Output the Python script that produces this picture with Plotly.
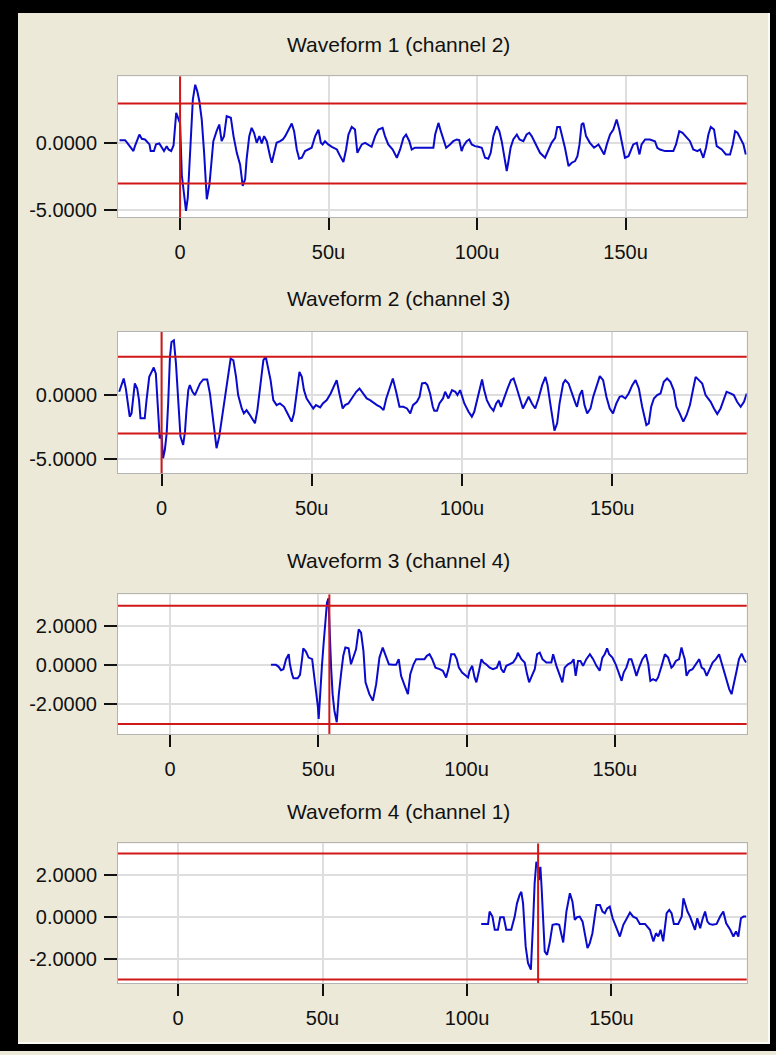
import plotly.graph_objects as go

# ---- data (time in microseconds, amplitude) ----
W1 = [(-20.4, 0.25), (-18.5, 0.25), (-17.4, -0.07), (-15.7, -0.57), (-15.2, -0.20), (-13.7, 0.67),
      (-12.9, 0.35), (-11.8, 0.30), (-10.3, -0.07), (-9.9, -0.57), (-8.8, -0.57), (-8.1, -0.07),
      (-7.0, 0.00), (-6.2, -0.32), (-5.4, -0.57), (-4.5, -0.20), (-3.9, -0.45), (-3.0, -0.57),
      (-2.2, -0.15), (-1.3, 2.29), (-0.6, 1.92), (0.0, 1.50), (0.6, -2.40), (2.0, -5.05),
      (2.6, -4.05), (3.1, -1.94), (3.6, 0.92), (4.3, 3.28), (5.1, 4.40), (5.8, 3.91),
      (6.5, 3.16), (7.3, 1.79), (8.1, -0.70), (9.0, -4.18), (9.9, -3.06), (10.3, -1.94),
      (11.2, 0.17), (12.3, 0.92), (13.2, 1.42), (14.0, 0.17), (14.8, 0.55), (15.7, 2.04),
      (17.1, 1.92), (18.0, 0.55), (19.1, -0.70), (20.2, -1.57), (21.1, -3.18), (21.9, -2.69),
      (22.4, -1.19), (23.3, 0.55), (24.1, 1.17), (24.9, 0.80), (25.8, 0.05), (26.7, 0.55),
      (27.5, 0.00), (28.3, 0.55), (29.2, 0.17), (30.3, -0.95), (30.9, -1.44), (31.4, -0.95),
      (32.5, 0.05), (33.7, 0.17), (34.6, 0.30), (35.4, 0.55), (36.5, 1.04), (37.6, 1.49),
      (38.4, 0.92), (39.3, -0.45), (40.1, -1.14), (41.0, -1.07), (42.1, -0.57), (43.2, -0.45),
      (44.3, -0.32), (45.5, 0.55), (46.6, 1.04), (47.4, 0.05), (48.0, -0.07), (48.8, 0.17),
      (49.9, -0.07), (51.1, -0.25), (52.8, -0.45), (53.9, -0.95), (55.0, -1.39), (55.9, -0.45),
      (56.7, 0.67), (57.8, 1.24), (58.9, 1.04), (59.7, -0.70), (61.2, -0.07), (62.3, 0.05),
      (63.4, -0.07), (64.5, -0.25), (65.7, 0.55), (66.8, 1.04), (68.2, 1.17), (69.0, 0.55),
      (70.1, -0.07), (71.6, -0.45), (73.0, -1.07), (74.1, -0.45), (75.2, 0.42), (76.1, 0.67),
      (77.2, 0.17), (78.0, -0.45), (79.1, -0.32), (80.8, -0.32), (85.3, -0.32), (85.9, 0.67),
      (87.0, 1.54), (87.8, 0.92), (88.7, 0.30), (89.6, -0.32), (90.9, -0.07), (92.0, 0.17),
      (93.2, 0.30), (94.0, 0.25), (94.8, -0.57), (95.4, -0.20), (96.5, 0.17), (97.4, 0.30),
      (98.2, -0.07), (99.3, -0.20), (100.4, -0.25), (101.6, -0.32), (102.7, -1.07), (103.8, -1.14),
      (104.6, -0.70), (105.5, 0.55), (106.6, 1.29), (107.5, 0.92), (108.3, 0.17), (109.1, -0.95),
      (110.0, -2.06), (110.5, -1.44), (111.3, -0.32), (112.2, 0.30), (113.4, 0.67), (114.3, 0.30),
      (115.6, 0.17), (116.7, 0.67), (117.6, 0.80), (118.4, 0.55), (119.5, 0.05), (121.2, -0.70),
      (122.9, -1.07), (124.0, -0.57), (125.1, 0.05), (126.3, 0.42), (127.0, 1.24), (127.9, 1.24),
      (128.8, 0.42), (129.6, -0.32), (130.8, -1.69), (131.9, -1.44), (133.0, -1.32), (133.8, -0.95),
      (134.5, -0.07), (135.2, 1.42), (135.8, 1.54), (136.7, 0.55), (138.0, 0.05), (139.4, -0.32),
      (140.9, -0.07), (142.0, -0.45), (142.8, -0.82), (143.7, -0.07), (144.8, 0.67), (145.9, 1.04),
      (147.0, 1.79), (147.9, 1.04), (148.7, 0.17), (149.8, -1.07), (151.0, -0.95), (151.7, -0.57),
      (152.6, -0.07), (153.8, 0.05), (154.7, -0.82), (155.4, -0.07), (156.6, 0.30), (158.2, 0.30),
      (159.9, 0.17), (160.7, -0.32), (161.6, -0.45), (163.3, -0.57), (166.1, -0.57), (167.0, -0.07),
      (168.1, 0.92), (169.2, 0.80), (170.6, 0.42), (171.7, 0.17), (172.8, -0.45), (174.2, -0.57),
      (175.1, -0.45), (176.2, -1.07), (177.1, -0.32), (177.9, 0.67), (178.7, 1.24), (179.8, 1.04),
      (180.7, -0.20), (182.4, -0.45), (183.8, -0.82), (185.2, -0.82), (186.1, -0.07), (186.9, 0.92),
      (187.7, 0.80), (188.5, 0.42), (189.7, -0.07), (190.5, -0.82)]

W2 = [(-14.1, 0.26), (-13.3, 0.91), (-12.6, 1.30), (-11.9, 0.52), (-11.1, -0.91), (-10.6, -1.68),
      (-10.0, -1.42), (-9.5, -0.13), (-8.9, 0.91), (-8.1, 0.52), (-7.5, -0.39), (-7.0, -1.81),
      (-5.6, -1.81), (-5.0, -0.39), (-4.1, 1.42), (-3.3, 1.81), (-2.6, 2.15), (-1.9, 1.68),
      (-1.1, -1.17), (-0.6, -3.37), (0.0, -3.11), (0.5, -4.92), (1.1, -4.27), (1.7, -2.98),
      (2.2, -0.65), (2.8, 2.98), (3.3, 4.14), (4.1, 4.27), (4.8, 2.46), (5.5, -0.39),
      (6.3, -3.24), (7.2, -3.88), (7.8, -2.85), (8.3, -1.17), (8.9, 0.39), (9.4, 0.78),
      (10.3, 0.26), (11.1, 0.00), (11.9, 0.39), (12.8, 0.91), (13.9, 1.22), (15.2, 1.22),
      (16.1, 0.13), (17.0, -1.55), (17.8, -3.24), (18.3, -4.14), (19.2, -3.24), (20.0, -1.94),
      (21.1, -0.39), (22.2, 1.68), (23.0, 2.85), (23.9, 2.72), (24.8, 1.42), (25.5, 0.00),
      (26.7, -1.04), (27.4, -1.42), (28.3, -1.17), (29.2, -1.48), (30.3, -1.94), (31.1, -2.20),
      (31.9, -1.17), (32.8, 0.39), (33.9, 2.72), (34.7, 2.98), (35.5, 2.20), (36.3, 1.17),
      (37.2, -0.39), (38.3, -0.78), (39.4, -0.65), (40.8, -0.91), (41.9, -1.42), (43.3, -2.07),
      (44.1, -1.42), (45.0, 0.39), (45.9, 1.81), (46.7, 1.42), (47.4, 0.39), (48.3, -0.26),
      (49.4, -0.65), (50.5, -1.04), (51.4, -0.78), (52.8, -0.96), (53.7, -0.65), (55.0, -0.39),
      (56.3, 0.13), (57.2, 0.65), (58.3, 1.17), (59.2, 0.13), (60.3, -1.04), (61.1, -0.78),
      (62.2, -0.65), (63.3, -0.26), (64.8, 0.26), (65.9, 0.52), (67.2, 0.13), (68.3, -0.26),
      (69.4, -0.39), (70.5, -0.60), (71.7, -0.78), (72.8, -0.91), (73.9, -1.17), (74.8, -0.26),
      (75.9, 0.52), (77.0, 1.30), (78.1, 0.26), (79.2, -0.91), (80.5, -0.91), (81.7, -1.04),
      (82.8, -1.42), (83.7, -0.78), (85.0, -0.52), (85.9, -0.13), (86.7, 0.91), (87.8, 0.96),
      (88.5, 0.78), (89.4, 0.13), (90.3, -0.91), (90.8, -1.22), (91.7, -1.22), (92.5, -0.65),
      (93.7, -0.26), (94.4, 0.26), (95.5, -0.26), (96.7, 0.39), (97.8, 0.26), (98.5, 0.00),
      (99.4, 0.39), (100.0, 0.00), (100.8, -0.65), (102.2, -1.30), (103.3, -1.68), (104.1, -1.30),
      (105.2, -0.13), (106.1, 0.65), (106.7, 1.22), (107.4, 0.39), (108.3, -0.39), (109.4, -0.91),
      (110.5, -1.22), (111.4, -0.65), (112.2, -0.39), (113.0, -0.91), (114.1, -0.13), (115.2, 0.52),
      (116.3, 1.17), (117.2, 1.30), (118.1, 0.65), (119.2, -0.26), (120.3, -1.04), (121.4, -0.52),
      (122.2, -0.13), (123.3, -0.65), (124.4, -1.04), (125.5, -0.26), (126.7, 0.78), (127.8, 1.42),
      (128.5, 0.78), (129.4, -0.65), (130.3, -2.20), (130.8, -2.77), (131.7, -2.20), (132.5, -0.65),
      (133.7, 0.91), (134.4, 1.17), (135.5, 0.91), (136.7, 0.00), (137.8, -0.65), (138.3, -0.91),
      (139.2, 0.00), (140.0, 0.39), (140.8, -0.78), (141.7, -1.42), (142.8, -1.04), (143.7, -0.13),
      (144.8, 0.78), (145.9, 1.48), (147.0, 1.17), (148.1, -0.13), (149.2, -1.04), (150.3, -1.42),
      (151.4, -0.65), (152.5, -0.13), (153.3, -0.08), (154.4, -0.26), (155.5, 0.13), (156.7, 0.78),
      (157.8, 1.17), (158.9, 0.52), (160.0, -0.91), (160.8, -1.68), (161.4, -2.33), (162.2, -2.20),
      (163.0, -0.91), (163.9, -0.26), (165.0, 0.00), (166.1, 0.13), (167.2, 1.04), (168.3, 1.30),
      (169.4, 1.04), (170.5, 0.39), (171.4, -0.91), (172.5, -1.42), (173.7, -2.07), (174.8, -1.55),
      (175.9, -0.78), (177.0, 0.52), (177.8, 1.42), (178.9, 1.17), (180.0, 0.91), (181.1, 0.00),
      (181.9, -0.26), (182.8, -0.52), (183.9, -1.04), (185.0, -1.48), (186.1, -1.04), (187.2, -0.39),
      (188.1, 0.26), (189.4, 0.13), (190.5, 0.00), (191.6, -0.52), (192.8, -0.91), (193.9, -0.52),
      (194.8, 0.13)]

W3 = [(34.0, 0.00), (35.7, 0.00), (36.6, -0.10), (37.4, -0.27), (38.2, -0.22), (39.1, 0.29),
      (40.0, 0.54), (40.4, 0.03), (41.1, -0.47), (41.6, -0.68), (43.0, -0.68), (43.8, -0.51),
      (44.5, 0.29), (44.9, 0.84), (45.8, 0.68), (46.7, 0.37), (47.9, 0.29), (48.6, -0.56),
      (49.2, -1.23), (49.8, -2.08), (50.1, -2.75), (50.6, -1.15), (51.2, -0.05), (51.7, 0.96),
      (52.4, 2.40), (52.9, 3.16), (53.4, 3.38), (53.7, 2.06), (54.3, -0.14), (54.8, -1.49),
      (55.4, -2.33), (56.2, -2.92), (56.9, -1.49), (57.7, -0.39), (58.4, 0.46), (59.1, 0.88),
      (60.2, 0.84), (61.0, 0.03), (61.8, 0.37), (62.7, 0.79), (63.6, 1.81), (64.4, 1.64),
      (65.2, 0.71), (65.9, -0.89), (67.2, -1.49), (68.4, -1.82), (69.5, -0.98), (70.6, 0.37),
      (71.7, 0.88), (72.6, 0.54), (73.8, 0.03), (75.1, 0.00), (76.2, 0.00), (77.1, 0.29),
      (77.9, -0.56), (79.1, -1.06), (80.2, -1.49), (81.0, -0.47), (82.1, 0.03), (83.0, 0.29),
      (84.7, 0.29), (85.8, 0.29), (86.6, 0.46), (87.5, 0.54), (88.4, 0.29), (89.5, -0.14),
      (90.9, -0.22), (92.0, -0.30), (93.1, -0.64), (94.0, -0.14), (94.8, 0.54), (95.9, 0.54),
      (96.7, 0.29), (97.4, -0.14), (98.5, -0.39), (99.7, -0.56), (100.5, -0.64), (101.0, -0.30),
      (101.9, -0.05), (102.7, -0.64), (103.3, -0.89), (104.2, -0.30), (105.0, 0.29), (105.7, 0.12),
      (106.6, 0.03), (107.8, -0.14), (108.9, -0.22), (110.2, -0.14), (111.1, 0.20), (111.7, -0.22),
      (112.5, -0.39), (113.4, -0.05), (114.5, 0.03), (115.7, 0.12), (116.8, 0.37), (117.3, 0.62),
      (118.5, 0.29), (119.6, 0.12), (120.4, -0.47), (121.1, -0.89), (121.8, -0.64), (123.0, -0.22),
      (123.8, 0.54), (124.7, 0.62), (125.6, 0.29), (126.9, 0.12), (128.6, 0.12), (129.2, 0.54),
      (130.3, -0.05), (131.4, -0.47), (132.3, -0.89), (133.1, -0.14), (134.2, 0.03), (135.4, 0.12),
      (136.1, 0.29), (136.8, -0.56), (137.6, 0.20), (138.4, 0.20), (139.3, -0.05), (140.4, 0.29),
      (141.6, 0.54), (142.7, 0.29), (143.8, -0.05), (144.9, -0.30), (145.8, 0.37), (146.6, 0.54),
      (147.4, 0.84), (148.1, 0.54), (149.2, 0.37), (150.3, 0.03), (151.5, -0.47), (152.3, -0.81),
      (153.0, -0.39), (153.9, -0.14), (154.8, 0.29), (155.6, 0.29), (156.5, -0.14), (157.3, -0.56),
      (158.2, -0.14), (159.3, 0.29), (160.5, 0.54), (161.3, 0.03), (162.0, -0.81), (162.9, -0.73),
      (163.9, -0.81), (164.6, -0.64), (165.8, -0.05), (166.9, 0.54), (168.0, 0.37), (169.1, -0.14),
      (169.7, -0.05), (170.6, 0.20), (171.7, 0.29), (172.5, 0.88), (173.1, 0.54), (173.6, 0.29),
      (174.2, -0.56), (175.1, -0.30), (176.2, -0.22), (177.4, 0.03), (178.5, 0.29), (179.3, -0.14),
      (180.1, -0.22), (181.0, -0.56), (182.1, -0.14), (183.0, 0.12), (184.1, 0.29), (185.2, 0.54),
      (186.0, 0.12), (186.8, -0.30), (187.7, -0.81), (188.6, -1.23), (189.4, -1.49), (190.2, -0.98),
      (191.1, -0.30), (191.9, 0.29), (192.8, 0.57), (193.6, 0.29), (194.3, 0.12)]

W4 = [(104.9, -0.35), (107.3, -0.35), (107.8, 0.24), (108.8, 0.00), (109.6, -0.63), (110.7, -0.63),
      (111.5, -0.03), (112.7, -0.03), (113.6, -0.63), (115.3, -0.63), (116.5, 0.00), (117.3, 0.63),
      (118.2, 1.03), (118.8, 1.18), (119.4, 0.63), (120.3, -1.42), (121.1, -2.21), (122.1, -2.53),
      (122.9, -0.16), (123.4, 1.58), (124.0, 2.61), (124.6, 2.37), (124.9, 1.74), (125.4, 2.37),
      (125.8, 1.42), (126.3, -0.32), (126.9, -1.66), (127.7, -1.82), (128.6, -1.26), (129.6, -0.39),
      (131.0, -0.35), (131.9, -0.39), (132.7, -0.95), (133.3, -1.23), (134.4, 0.24), (135.6, 1.11),
      (136.5, 0.71), (137.3, -0.16), (138.1, -0.03), (139.0, 0.00), (140.0, -0.24), (140.8, -0.87),
      (141.7, -1.50), (142.5, -1.26), (143.4, -0.79), (144.2, 0.00), (144.8, 0.55), (146.0, 0.55),
      (146.9, 0.24), (147.7, 0.16), (148.5, 0.39), (149.4, 0.47), (150.4, -0.08), (151.5, -0.47),
      (152.9, -0.95), (154.1, -0.39), (155.2, -0.08), (156.4, 0.19), (157.5, 0.00), (158.7, -0.08),
      (159.8, -0.35), (161.6, -0.35), (163.3, -0.63), (164.5, -1.18), (165.4, -0.79), (166.2, -0.95),
      (167.0, -0.63), (167.9, -1.18), (169.1, 0.16), (170.0, 0.32), (170.8, 0.16), (171.6, -0.35),
      (173.1, -0.35), (174.3, 0.00), (174.9, 0.87), (175.5, 0.55), (176.3, 0.24), (177.2, 0.00),
      (178.1, -0.32), (178.9, -0.63), (179.7, -0.08), (180.7, -0.55), (181.6, -0.08), (182.4, 0.24),
      (183.2, -0.24), (183.9, -0.35), (185.0, -0.39), (186.4, -0.35), (187.6, 0.00), (188.7, 0.24),
      (189.7, -0.32), (191.1, -0.63), (192.2, -0.95), (193.1, -0.71), (193.9, -0.95), (194.8, -0.08),
      (195.7, 0.00), (196.6, 0.00)]

TITLES = ["Waveform 1 (channel 2)", "Waveform 2 (channel 3)",
          "Waveform 3 (channel 4)", "Waveform 4 (channel 1)"]
XTICK_VALS = [0, 50, 100, 150]
XTICK_TEXT = ["0", "50u", "100u", "150u"]
YTICK_VALS = [[0, -5], [0, -5], [2, 0, -2], [2, 0, -2]]
YTICK_TEXT = [["0.0000", "-5.0000"], ["0.0000", "-5.0000"],
              ["2.0000", "0.0000", "-2.0000"], ["2.0000", "0.0000", "-2.0000"]]
THRESH = [3.0, 3.0, 3.0, 3.0]          # +/- trigger level
TRIGGER_T = [0.0, 0.0, 53.7, 124.6]    # trigger time (u)

# ---- layout geometry ----
W, H = 776, 1055
XRANGES = [(-20.9, 190.8), (-14.5, 194.8), (-17.6, 194.5), (-20.8, 196.8)]
YRANGES = [(-5.54, 5.02), (-6.09, 4.92), (-3.51, 3.58), (-3.16, 3.48)]
PLOT_PX = [(76.7, 218.3), (333.3, 475.0), (596.7, 736.7), (846.7, 986.7)]  # top, bottom
TITLE_Y = [45, 300, 563, 815]
X_DOM = [118 / W, 746.7 / W]

BLUE = "#0A0ACC"
RED = "#D01818"
FONT = "Arial, Liberation Sans, sans-serif"
TXT = "#111111"

fig = go.Figure()
waves = [W1, W2, W3, W4]
for i, wv in enumerate(waves):
    t = [p[0] for p in wv]
    v = [p[1] for p in wv]
    sfx = "" if i == 0 else str(i + 1)
    fig.add_trace(go.Scatter(x=t, y=v, mode="lines", xaxis="x" + sfx, yaxis="y" + sfx,
                             line=dict(color=BLUE, width=2), hoverinfo="skip",
                             showlegend=False))

layout = dict(width=W, height=H, margin=dict(l=0, r=0, t=0, b=0, pad=0),
              paper_bgcolor="#ECE9D8", plot_bgcolor="#FFFFFF",
              font=dict(family=FONT, size=20, color=TXT), showlegend=False)

shapes = []
annotations = []
for i in range(4):
    sfx = "" if i == 0 else str(i + 1)
    top, bot = PLOT_PX[i]
    ydom = [1 - bot / H, 1 - top / H]
    layout["xaxis" + sfx] = dict(
        domain=X_DOM, range=list(XRANGES[i]), anchor="y" + sfx,
        tickmode="array", tickvals=XTICK_VALS, ticktext=XTICK_TEXT,
        ticks="outside", ticklen=12, tickwidth=2, tickcolor="#111111",
        ticklabelstandoff=5,
        showgrid=True, gridcolor="#DEDEDE", gridwidth=1.5, zeroline=False,
        showline=True, linecolor="#B4B4B4", linewidth=1, mirror=True,
        tickfont=dict(family=FONT, size=20, color=TXT), fixedrange=True)
    layout["yaxis" + sfx] = dict(
        domain=ydom, range=list(YRANGES[i]), anchor="x" + sfx,
        tickmode="array", tickvals=YTICK_VALS[i], ticktext=YTICK_TEXT[i],
        ticks="outside", ticklen=13, tickwidth=2, tickcolor="#111111",
        ticklabelstandoff=3,
        showgrid=True, gridcolor="#DEDEDE", gridwidth=1.5, zeroline=False,
        showline=True, linecolor="#B4B4B4", linewidth=1, mirror=True,
        tickfont=dict(family=FONT, size=20, color=TXT), fixedrange=True)
    xr = "x" + sfx
    yr = "y" + sfx
    for lv in (THRESH[i], -THRESH[i]):
        shapes.append(dict(type="line", xref=xr + " domain", yref=yr, x0=0, x1=1,
                           y0=lv, y1=lv, line=dict(color=RED, width=2), layer="above"))
    shapes.append(dict(type="line", xref=xr, yref=yr + " domain", x0=TRIGGER_T[i],
                       x1=TRIGGER_T[i], y0=0, y1=1, line=dict(color=RED, width=2),
                       layer="above"))
    annotations.append(dict(text=TITLES[i], xref="paper", yref="paper",
                            x=398.5 / W, y=1 - TITLE_Y[i] / H, xanchor="center",
                            yanchor="middle", showarrow=False,
                            font=dict(family=FONT, size=21, color=TXT)))

# outer black window frame
def rect(x0, y0, x1, y1, color):
    return dict(type="rect", xref="paper", yref="paper", x0=x0 / W, x1=x1 / W,
                y0=1 - y1 / H, y1=1 - y0 / H, fillcolor=color, line=dict(width=0),
                layer="above")

shapes += [rect(0, 0, W, 13, "#000000"), rect(0, 0, 18, H, "#000000"),
           rect(770, 0, W, H, "#000000"), rect(0, 1048, W, H, "#000000"),
           rect(18, 1046, 770, 1048, "#FAFAF5"), rect(768, 13, 770, 1048, "#FAFAF5")]

layout["shapes"] = shapes
layout["annotations"] = annotations
fig.update_layout(**layout)
fig.write_html("out.html")
